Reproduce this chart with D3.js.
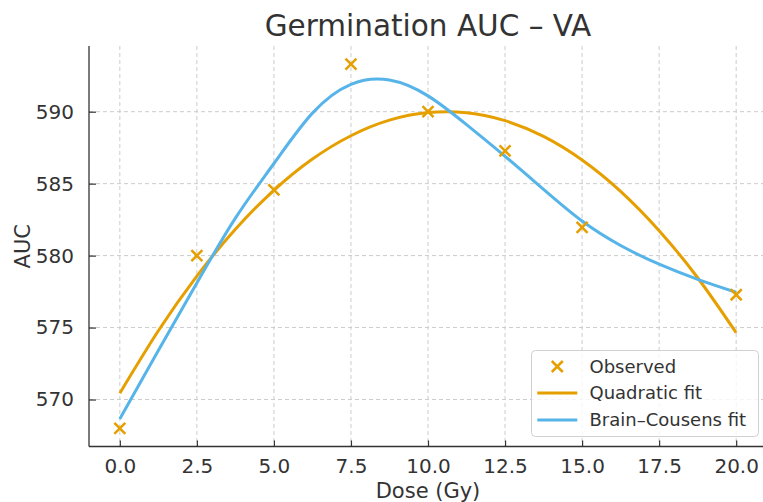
<!DOCTYPE html>
<html>
<head>
<meta charset="utf-8">
<script src="https://cdn.jsdelivr.net/npm/d3@7/dist/d3.min.js"></script>
<style>
  html, body { margin: 0; padding: 0; background: #fff; }
  svg { display: block; font-family: "DejaVu Sans", sans-serif; }
</style>
</head>
<body>
<svg id="chart" width="763" height="502"></svg>
<script>
// ---- data ----
const obsDose = [0, 2.5, 5, 7.5, 10, 12.5, 15, 20];
const obsAUC  = [568.0, 580.0, 584.56, 593.3, 590.0, 587.28, 581.96, 577.28];

const fitDose = [0, 1.25, 2.5, 3.75, 5, 6.25, 7.5, 8.75, 10, 11.25, 12.5, 13.75, 15, 16.25, 17.5, 18.75, 20];
const quadAUC = [570.44, 574.78, 578.58, 581.83, 584.54, 586.71, 588.33, 589.41, 589.94, 589.93, 589.38, 588.28, 586.64, 584.46, 581.73, 578.46, 574.64];
const bcAUC   = [568.65, 573.4, 578.1, 582.6, 586.4, 589.9, 591.9, 592.2, 591.1, 589.1, 586.9, 584.6, 582.4, 580.7, 579.4, 578.35, 577.45];

const xTicks = [0, 2.5, 5, 7.5, 10, 12.5, 15, 17.5, 20];
const yTicks = [570, 575, 580, 585, 590];

const title = "Germination AUC – VA";
const xLabel = "Dose (Gy)";
const yLabel = "AUC";
const legendLabels = ["Observed", "Quadratic fit", "Brain–Cousens fit"];

// ---- styles ----
const ORANGE = "#E69F00", BLUE = "#56B4E9", TEXT = "#333333", GRID = "#cccccc", SPINE = "#333333";

(function () {
const svg = d3.select("#chart");
const pL = 89, pR = 767, pT = 46, pB = 446.5;

// matplotlib-like 5% margins
const xs = obsDose.concat(fitDose), ys = obsAUC.concat(quadAUC, bcAUC);
const [x0, x1] = d3.extent(xs), [y0, y1] = d3.extent(ys);
const xPad = (x1 - x0) * 0.05, yPad = (y1 - y0) * 0.05;

const x = d3.scaleLinear().domain([x0 - xPad, x1 + xPad]).range([pL, pR]);
const y = d3.scaleLinear().domain([y0 - yPad, y1 + yPad]).range([pB, pT]);

// grid
const grid = svg.append("g");
grid.selectAll(".gx").data(xTicks).enter().append("line")
  .attr("x1", d => x(d)).attr("x2", d => x(d)).attr("y1", pT).attr("y2", pB)
  .attr("stroke", GRID).attr("stroke-width", 1).attr("stroke-dasharray", "4,3");
grid.selectAll(".gy").data(yTicks).enter().append("line")
  .attr("x1", pL).attr("x2", pR).attr("y1", d => y(d)).attr("y2", d => y(d))
  .attr("stroke", GRID).attr("stroke-width", 1).attr("stroke-dasharray", "4,3");

// curves
const line = d3.line().x(d => x(d[0])).y(d => y(d[1])).curve(d3.curveNatural);
svg.append("path").datum(fitDose.map((d, i) => [d, quadAUC[i]]))
  .attr("d", line).attr("fill", "none").attr("stroke", ORANGE).attr("stroke-width", 3);
svg.append("path").datum(fitDose.map((d, i) => [d, bcAUC[i]]))
  .attr("d", line).attr("fill", "none").attr("stroke", BLUE).attr("stroke-width", 3);

// markers
const xMark = (cx, cy, s) => `M${cx - s},${cy - s}L${cx + s},${cy + s}M${cx - s},${cy + s}L${cx + s},${cy - s}`;
svg.append("g").selectAll("path").data(obsDose.map((d, i) => [d, obsAUC[i]])).enter().append("path")
  .attr("d", d => xMark(x(d[0]), y(d[1]), 5.5))
  .attr("stroke", ORANGE).attr("stroke-width", 2.5).attr("fill", "none");

// axes
const xAxis = d3.axisBottom(x).tickValues(xTicks).tickFormat(d3.format(".1f")).tickSizeInner(-6).tickSizeOuter(0).tickPadding(12);
const gx = svg.append("g").attr("transform", `translate(0,${pB})`).call(xAxis);
const yAxis = d3.axisLeft(y).tickValues(yTicks).tickFormat(d3.format("d")).tickSizeInner(-7).tickSizeOuter(0).tickPadding(15);
const gy = svg.append("g").attr("transform", `translate(${pL},0)`).call(yAxis);
[gx, gy].forEach(g => {
  g.select(".domain").attr("stroke", SPINE).attr("stroke-width", 1.3);
  g.selectAll(".tick line").attr("stroke", SPINE).attr("stroke-width", 1.2);
  g.selectAll(".tick text").attr("fill", TEXT).style("font-size", "20px").style("font-family", "DejaVu Sans");
});
gx.select(".domain").attr("d", `M${pL},0H${pR}`);
gy.select(".domain").attr("d", `M0,${pB}V${pT}`);

// labels
svg.append("text").attr("x", (pL + pR) / 2).attr("y", 36).attr("text-anchor", "middle")
  .attr("fill", TEXT).style("font-size", "29.5px").text(title);
svg.append("text").attr("x", (pL + pR) / 2).attr("y", 498).attr("text-anchor", "middle")
  .attr("fill", TEXT).style("font-size", "21px").text(xLabel);
svg.append("text").attr("transform", `translate(30,${(pT + pB) / 2}) rotate(-90)`).attr("text-anchor", "middle")
  .attr("fill", TEXT).style("font-size", "21px").text(yLabel);

// legend
const lg = svg.append("g");
lg.append("rect").attr("x", 531.5).attr("y", 350.5).attr("width", 227).attr("height", 86).attr("rx", 4)
  .attr("fill", "rgba(255,255,255,0.8)").attr("stroke", "#d0d0d0").attr("stroke-width", 1);
const rowY = [366.5, 393, 420];
lg.append("path").attr("d", xMark(557.3, rowY[0], 5.5)).attr("stroke", ORANGE).attr("stroke-width", 2.5);
lg.append("line").attr("x1", 537.3).attr("x2", 577.3).attr("y1", rowY[1]).attr("y2", rowY[1]).attr("stroke", ORANGE).attr("stroke-width", 3);
lg.append("line").attr("x1", 537.3).attr("x2", 577.3).attr("y1", rowY[2]).attr("y2", rowY[2]).attr("stroke", BLUE).attr("stroke-width", 3);
lg.selectAll(".lt").data(legendLabels).enter().append("text")
  .attr("x", 589.5).attr("y", (d, i) => rowY[i]).attr("dy", "0.36em")
  .attr("fill", TEXT).style("font-size", "18px").text(d => d);
})();
</script>
</body>
</html>
